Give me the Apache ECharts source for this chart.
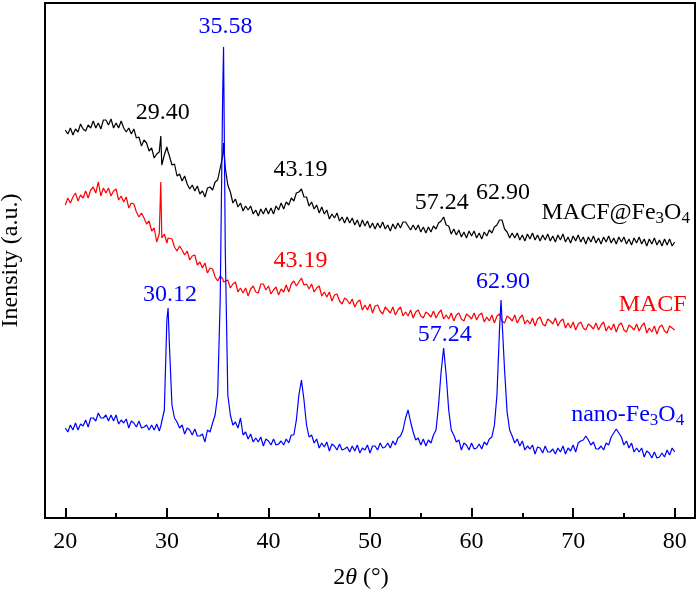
<!DOCTYPE html>
<html><head><meta charset="utf-8">
<script src="https://cdn.jsdelivr.net/npm/echarts@6/dist/echarts.min.js"></script>
<style>html,body{margin:0;padding:0;background:#fff}#c{width:697px;height:591px}</style>
</head><body><div id="c"></div>
<script>
// 2θ (degrees)
const angles = [
20,20.25,20.5,20.75, 21,21.25,21.5,21.75, 22,22.25,22.5,22.75, 23,23.25,23.5,23.75,
24,24.25,24.5,24.75, 25,25.25,25.5,25.75, 26,26.25,26.5,26.75, 27,27.25,27.5,27.75,
28,28.25,28.5,28.75, 29,29.25,29.4,29.5,29.75, 30,30.12,30.25,30.5,30.75,
31,31.25,31.5,31.75, 32,32.25,32.5,32.75, 33,33.25,33.5,33.75, 34,34.25,34.5,34.75,
35,35.25,35.5,35.58,35.75, 36,36.25,36.5,36.75, 37,37.25,37.5,37.75, 38,38.25,38.5,38.75,
39,39.25,39.5,39.75, 40,40.25,40.5,40.75, 41,41.25,41.5,41.75, 42,42.25,42.5,42.75,
43,43.25,43.5,43.75, 44,44.25,44.5,44.75, 45,45.25,45.5,45.75, 46,46.25,46.5,46.75,
47,47.25,47.5,47.75, 48,48.25,48.5,48.75, 49,49.25,49.5,49.75, 50,50.25,50.5,50.75,
51,51.25,51.5,51.75, 52,52.25,52.5,52.75, 53,53.25,53.5,53.75, 54,54.25,54.5,54.75,
55,55.25,55.5,55.75, 56,56.25,56.5,56.75, 57,57.25,57.5,57.75, 58,58.25,58.5,58.75,
59,59.25,59.5,59.75, 60,60.25,60.5,60.75, 61,61.25,61.5,61.75, 62,62.25,62.5,62.75,62.9,
63,63.25,63.5,63.75, 64,64.25,64.5,64.75, 65,65.25,65.5,65.75, 66,66.25,66.5,66.75,
67,67.25,67.5,67.75, 68,68.25,68.5,68.75, 69,69.25,69.5,69.75, 70,70.25,70.5,70.75,
71,71.25,71.5,71.75, 72,72.25,72.5,72.75, 73,73.25,73.5,73.75, 74,74.25,74.5,74.75,
75,75.25,75.5,75.75, 76,76.25,76.5,76.75, 77,77.25,77.5,77.75, 78,78.25,78.5,78.75,
79,79.25,79.5,79.75, 80];

// MACF@Fe3O4 intensity (a.u., offset trace)
const macfFe3O4 = [
388,384,390,383, 389,386,394,389, 387,393,390,397, 390,395,389,398,
398,393,399,390, 395,390,397,390, 386,390,384,389, 380,381,372,378,
375,367,370,360, 364,366,382,353,363, 371,366,362,353,354,
342,344,337,342, 334,329,333,327, 332,324,327,321, 330,331,328,336,
338,350,362,375,350, 333,326,315,319, 311,315,307,312, 308,312,304,308,
302,309,304,310, 304,310,304,312, 308,315,309,316, 313,320,317,325,
326,329,321,321, 312,316,309,313, 305,311,304,308, 299,304,300,305,
297,301,295,301, 295,300,293,298, 291,298,292,297, 290,295,289,295,
290,296,289,293, 287,294,289,295, 290,296,296,292, 288,293,288,293,
286,291,285,291, 286,292,289,295, 297,301,293,292, 284,289,283,288,
281,286,280,287, 282,287,280,285, 279,286,282,288, 285,291,293,298,300,
298,289,286,280, 285,280,285,278, 283,277,284,279, 285,278,283,277,
283,278,284,277, 282,276,283,278, 284,276,281,275, 282,277,283,276,
281,274,281,276, 282,275,280,274, 281,276,282,275, 280,274,281,276,
281,274,279,273, 280,275,281,274, 279,272,279,274, 280,273,278,272,
279,273,279,272, 276];

// MACF intensity
const macf = [
313,320,315,321, 325,317,323,320, 327,320,328,331, 325,336,322,330,
325,330,322,327, 329,318,322,316, 321,310,315,314, 306,301,305,300,
294,297,287,290, 276,284,336,280,284, 275,280,280,279,271,
267,272,268,263, 267,258,262,263, 253,256,250,255, 245,250,249,241,
237,242,239,236,234, 238,230,234,236, 226,230,225,230, 222,229,232,226,
225,234,234,228, 232,224,228,231, 223,229,226,233, 226,234,237,232,
236,240,233,234, 229,234,226,230, 232,222,226,221, 226,217,223,224,
217,214,220,218, 214,219,211,216, 218,208,213,208, 214,205,212,213,
207,204,211,208, 205,211,203,208, 211,202,206,202, 208,200,206,208,
202,200,206,204, 201,207,200,205, 208,199,203,199, 205,197,203,205,
199,197,204,202, 199,205,198,203, 205,196,201,197, 203,195,202,204,200,
197,195,202,200, 197,203,195,200, 203,194,198,194, 200,192,199,201,
194,192,199,197, 194,200,192,197, 199,190,195,190, 196,188,194,196,
190,188,194,192, 189,195,188,193, 196,187,192,188, 194,186,193,195,
188,186,193,191, 188,194,187,192, 195,185,190,186, 192,184,191,193,
187,185,192,190, 188];

// nano-Fe3O4 intensity
const nanoFe3O4 = [
90,86,93,88, 95,88,94,92, 98,91,100,100, 97,105,100,100,
103,97,103,97, 103,94,98,95, 99,90,97,95, 91,97,90,91,
93,88,93,88, 94,87,92,94,108, 198,210,173,113,100,
96,90,93,84, 90,88,83,89, 82,82,84,76, 88,86,95,103,
123,218,428,471,268, 123,103,93,96, 90,100,83,86, 79,84,76,80,
76,81,72,79, 77,73,79,73, 74,77,73,79, 75,83,83,98,
123,138,118,93, 81,83,75,79, 70,75,71,76, 67,74,72,68,
74,68,69,71, 66,72,67,73, 65,70,68,73, 65,72,72,68,
75,70,71,75, 70,77,73,80, 82,88,100,108, 96,86,78,80,
73,79,72,78, 75,83,88,113, 146,170,143,108, 88,83,76,78,
68,75,73,68, 75,69,70,74, 69,76,73,79, 81,93,123,188,218,
198,148,106,88, 82,75,79,72, 77,68,72,69, 73,64,71,70,
65,72,66,66, 69,64,70,66, 72,64,70,67, 73,66,75,77,
78,82,78,73, 76,69,69,72, 68,75,73,81, 85,89,85,81,
73,77,70,75, 66,70,66,70, 61,67,65,60, 66,60,61,65,
61,68,63,70, 66];

const xTicks = [20, 30, 40, 50, 60, 70, 80];
const xMinorTicks = [25, 35, 45, 55, 65, 75];

const blackPeakAngles = [29.4, 43.25, 57.25, 62.9];
const blackPeakLabels = ['29.40', '43.19', '57.24', '62.90'];
const redPeakAngles = [43.25];
const redPeakLabels = ['43.19'];
const bluePeakAngles = [30.12, 35.58, 57.25, 62.9];
const bluePeakLabels = ['30.12', '35.58', '57.24', '62.90'];

const FONT = 'Liberation Serif';
const richSub = (color) => ({
  s: { fontFamily: FONT, fontSize: 17, color: color, padding: [11, 0, 0, 0] }
});

function pairs(vals) { return angles.map((a, i) => [a, vals[i]]); }

function marks(vals, peakAngles, peakLabels, offsets, color, nameText, nameOffset) {
  const data = peakAngles.map((a, i) => ({
    coord: [a, vals[angles.indexOf(a)]],
    label: { formatter: peakLabels[i], offset: offsets[i] }
  }));
  data.push({
    coord: [angles[angles.length - 1], vals[vals.length - 1]],
    label: { formatter: nameText, offset: nameOffset, rich: richSub(color) }
  });
  return {
    symbol: 'circle', symbolSize: 0, silent: true, animation: false,
    itemStyle: { color: 'transparent' },
    label: { show: true, position: 'inside', color: color, fontFamily: FONT, fontSize: 24,
             align: 'center', verticalAlign: 'middle' },
    data: data
  };
}

const chart = echarts.init(document.getElementById('c'), null, { renderer: 'canvas' });
chart.setOption({
  animation: false,
  backgroundColor: '#fff',
  grid: { left: 45, right: 2, top: 3, bottom: 73, show: true, borderColor: '#000', borderWidth: 2,
          backgroundColor: 'transparent', containLabel: false, outerBoundsMode: 'none' },
  xAxis: [{
    type: 'value', min: 18, max: 82,
    axisLine: { show: false },
    axisTick: { show: true, inside: true, length: 10, customValues: xTicks, lineStyle: { color: '#000', width: 2 } },
    axisLabel: { show: true, customValues: xTicks, color: '#000', fontFamily: FONT, fontSize: 24, margin: 12 },
    splitLine: { show: false },
    name: '2{i|θ} (°)', nameLocation: 'middle', nameGap: 48,
    nameTextStyle: { color: '#000', fontFamily: FONT, fontSize: 24, padding: [0, 18, 0, 0],
      rich: { i: { fontFamily: FONT, fontSize: 24, fontStyle: 'italic', color: '#000' } } }
  }, {
    type: 'value', min: 18, max: 82, position: 'bottom',
    axisLine: { show: false },
    axisTick: { show: true, inside: true, length: 5, customValues: xMinorTicks, lineStyle: { color: '#000', width: 2 } },
    axisLabel: { show: false },
    splitLine: { show: false }
  }],
  yAxis: {
    type: 'value', min: 0, max: 515,
    axisLine: { show: false }, axisTick: { show: false }, axisLabel: { show: false }, splitLine: { show: false },
    name: 'Inensity (a.u.)', nameLocation: 'middle', nameGap: 22,
    nameTextStyle: { color: '#000', fontFamily: FONT, fontSize: 24 }
  },
  series: [{
    name: 'MACF@Fe3O4', type: 'line', data: pairs(macfFe3O4), showSymbol: false, symbol: 'none',
    lineStyle: { color: '#000', width: 1.2 }, itemStyle: { color: '#000' }, z: 2,
    markPoint: marks(macfFe3O4, blackPeakAngles, blackPeakLabels,
      [[2, -23], [-1, -19], [-2, -14], [2, -25]], '#000',
      'MACF@Fe{s|3}O{s|4}', [-59, -29])
  }, {
    name: 'MACF', type: 'line', data: pairs(macf), showSymbol: false, symbol: 'none',
    lineStyle: { color: '#ff0000', width: 1.2 }, itemStyle: { color: '#ff0000' }, z: 3,
    markPoint: marks(macf, redPeakAngles, redPeakLabels, [[-1, -17]], '#ff0000', 'MACF', [-22, -25])
  }, {
    name: 'nano-Fe3O4', type: 'line', data: pairs(nanoFe3O4), showSymbol: false, symbol: 'none',
    lineStyle: { color: '#0000ff', width: 1.2 }, itemStyle: { color: '#0000ff' }, z: 4,
    markPoint: marks(nanoFe3O4, bluePeakAngles, bluePeakLabels,
      [[2, -13], [2, -20], [1, -13], [2, -18]], '#0000ff',
      'nano-Fe{s|3}O{s|4}', [-47, -37])
  }]
});
</script>
</body></html>
